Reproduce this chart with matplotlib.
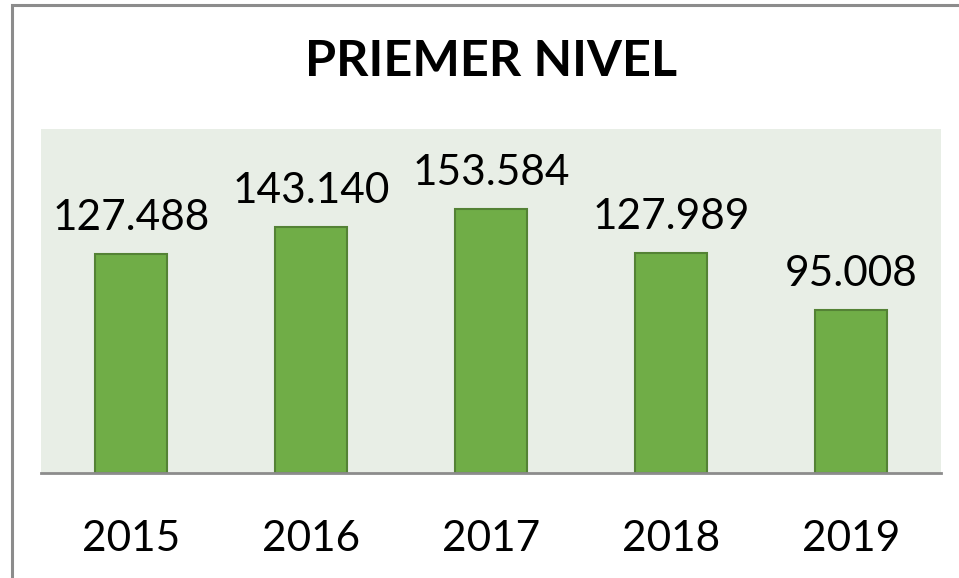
import matplotlib
matplotlib.use("Agg")
import matplotlib.pyplot as plt
from matplotlib.patches import Rectangle

years = ["2015", "2016", "2017", "2018", "2019"]
values = [127488, 143140, 153584, 127989, 95008]
title = "PRIEMER NIVEL"

W, H = 959, 578
fig = plt.figure(figsize=(W / 100, H / 100), dpi=100)
fig.patch.set_facecolor("white")
plt.rcParams["font.family"] = ["Lato", "DejaVu Sans"]

# outer frame
fig.patches.append(Rectangle((11.5 / W, -0.1), 2.0, (H - 5.5) / H + 0.1,
                             transform=fig.transFigure, fill=False,
                             edgecolor="#8c8c8c", linewidth=2.2))

ax = fig.add_axes([41 / W, (H - 473) / H, 900 / W, (473 - 129) / H])
ax.set_facecolor("#e8eee6")
x = list(range(len(years)))
ax.bar(x, values, width=0.405, color="#70ad47", edgecolor="#548235", linewidth=1.5, zorder=2)
ax.set_xlim(-0.5, len(years) - 0.5)
ax.set_ylim(0, 200000)
for s in ["top", "right", "left"]:
    ax.spines[s].set_visible(False)
ax.spines["bottom"].set_color("#8c8c8c")
ax.spines["bottom"].set_linewidth(2)
ax.set_yticks([])
ax.set_xticks(x)
ax.set_xticklabels(years, fontsize=30.5, color="black")
ax.tick_params(axis="x", length=0, pad=34)

def fmt(v):
    return f"{v:,}".replace(",", ".")

for xi, v in zip(x, values):
    ax.annotate(fmt(v), (xi, v), xytext=(0, 12), textcoords="offset points",
                ha="center", va="bottom", fontsize=30.5, color="black")

fig.text(491 / W, 1 - 61 / H, title, ha="center", va="center",
         fontsize=36.3, fontweight="bold", color="black")

fig.savefig("out.png", dpi=100, facecolor="white")
